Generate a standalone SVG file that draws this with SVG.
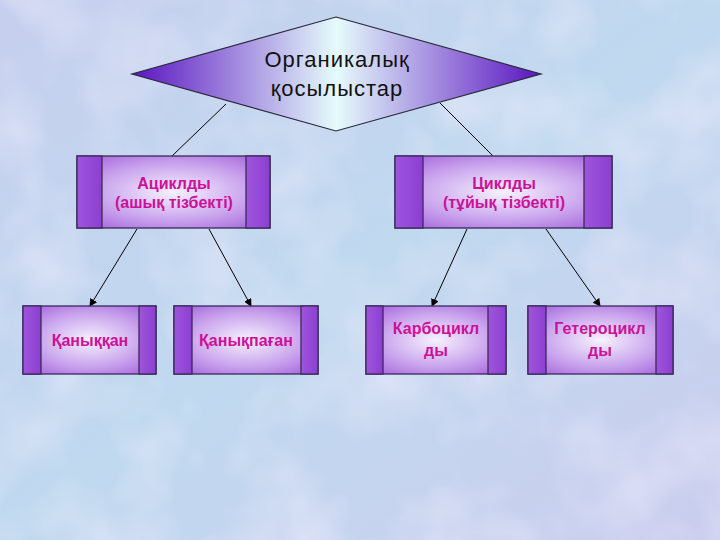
<svg xmlns="http://www.w3.org/2000/svg" width="720" height="540" viewBox="0 0 720 540">
<defs>
<linearGradient id="bg" x1="0" y1="0" x2="1" y2="1">
<stop offset="0" stop-color="#c6cfee"/>
<stop offset="0.5" stop-color="#c0d9ef"/>
<stop offset="1" stop-color="#cbcdee"/>
</linearGradient>
<filter id="tex" x="0" y="0" width="100%" height="100%">
<feTurbulence type="fractalNoise" baseFrequency="0.012" numOctaves="3" seed="7"/>
<feColorMatrix type="matrix" values="0 0 0 0 0.86  0 0 0 0 0.84  0 0 0 0 0.97  0 0 0 1.1 -0.45"/>
</filter>
<linearGradient id="dia" x1="0" y1="0" x2="1" y2="0">
<stop offset="0" stop-color="#5a14c0"/>
<stop offset="0.5" stop-color="#e6fbfc"/>
<stop offset="1" stop-color="#5a14c0"/>
</linearGradient>
<radialGradient id="box" cx="0.5" cy="0.5" r="0.75">
<stop offset="0" stop-color="#f6f2fc"/>
<stop offset="0.5" stop-color="#cba7ee"/>
<stop offset="1" stop-color="#9a4fd6"/>
</radialGradient>
<linearGradient id="side" x1="0" y1="0" x2="1" y2="0">
<stop offset="0" stop-color="#9f55dd"/>
<stop offset="1" stop-color="#8c3fd0"/>
</linearGradient>
<marker id="arr" markerWidth="8" markerHeight="8" refX="7" refY="4" orient="auto" markerUnits="userSpaceOnUse">
<path d="M0,0 L8,4 L0,8 Z" fill="#000"/>
</marker>
<style>
.b{fill:url(#box);stroke:#3a2a5a;stroke-width:1.3}
.s{fill:url(#side);stroke:#3a2a5a;stroke-width:1.3}
.t{font-family:"Liberation Sans",Arial,sans-serif;font-weight:bold;font-size:16px;fill:#cc1199;text-anchor:middle}
.c{stroke:#000;stroke-width:1;fill:none}
.r{font-family:"Liberation Sans",Arial,sans-serif;font-size:22px;letter-spacing:1px;fill:#111;text-anchor:middle}
</style>
</defs>
<rect width="720" height="540" fill="url(#bg)"/>
<rect width="720" height="540" filter="url(#tex)"/>
<g id="connectors">
<line class="c" x1="226" y1="104" x2="172" y2="156"/>
<line class="c" x1="440" y1="103" x2="493" y2="156"/>
<line class="c" x1="137" y1="229" x2="90" y2="306" marker-end="url(#arr)"/>
<line class="c" x1="209" y1="229" x2="251" y2="306" marker-end="url(#arr)"/>
<line class="c" x1="467" y1="229" x2="432" y2="306" marker-end="url(#arr)"/>
<line class="c" x1="546" y1="229" x2="600" y2="306" marker-end="url(#arr)"/>
</g>
<g id="root">
<polygon points="336,17 541,74 336,131 132,74" fill="url(#dia)" stroke="#2a2a3a" stroke-width="1.2"/>
<text class="r" x="337" y="67">Органикалық</text>
<text class="r" x="337" y="96">қосылыстар</text>
</g>
<g id="acyclic">
<rect class="b" x="77" y="156" width="193" height="72"/>
<rect class="s" x="77" y="156" width="25" height="72"/>
<rect class="s" x="246" y="156" width="24" height="72"/>
<text class="t" x="174" y="189">Ациклды</text>
<text class="t" x="174" y="208">(ашық тізбекті)</text>
</g>
<g id="cyclic">
<rect class="b" x="395" y="156" width="217" height="72"/>
<rect class="s" x="395" y="156" width="28" height="72"/>
<rect class="s" x="584" y="156" width="28" height="72"/>
<text class="t" x="504" y="189">Циклды</text>
<text class="t" x="504" y="208">(тұйық тізбекті)</text>
</g>
<g id="saturated">
<rect class="b" x="23" y="306" width="133" height="68"/>
<rect class="s" x="23" y="306" width="18" height="68"/>
<rect class="s" x="139" y="306" width="17" height="68"/>
<text class="t" x="90" y="346">Қаныққан</text>
</g>
<g id="unsaturated">
<rect class="b" x="174" y="306" width="144" height="68"/>
<rect class="s" x="174" y="306" width="18" height="68"/>
<rect class="s" x="301" y="306" width="17" height="68"/>
<text class="t" x="246" y="346">Қанықпаған</text>
</g>
<g id="carbocyclic">
<rect class="b" x="366" y="306" width="140" height="68"/>
<rect class="s" x="366" y="306" width="17" height="68"/>
<rect class="s" x="488" y="306" width="18" height="68"/>
<text class="t" x="436" y="334">Карбоцикл</text>
<text class="t" x="436" y="356">ды</text>
</g>
<g id="heterocyclic">
<rect class="b" x="528" y="306" width="145" height="68"/>
<rect class="s" x="528" y="306" width="18" height="68"/>
<rect class="s" x="656" y="306" width="17" height="68"/>
<text class="t" x="600" y="334">Гетероцикл</text>
<text class="t" x="600" y="356">ды</text>
</g>
</svg>
